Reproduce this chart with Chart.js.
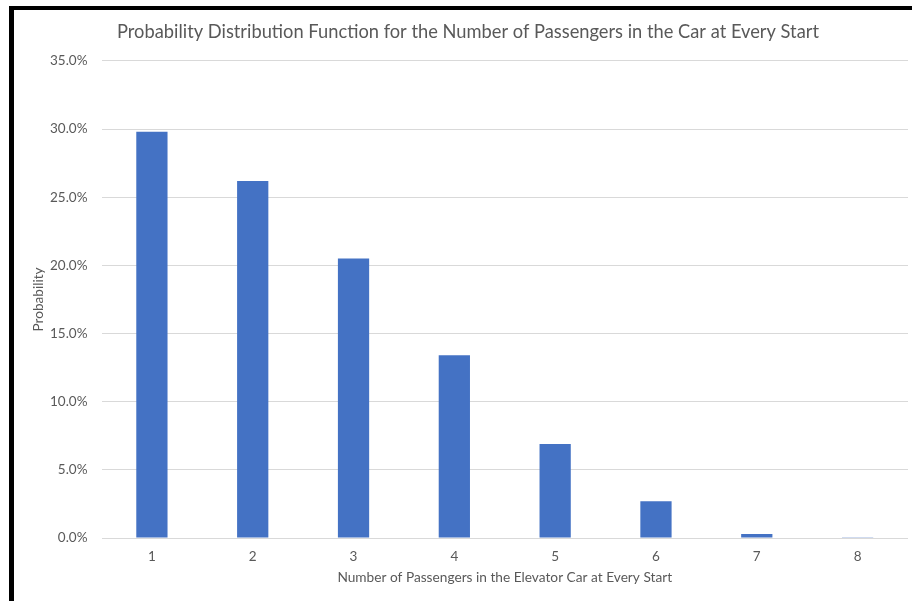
<!DOCTYPE html>
<html>
<head>
<meta charset="utf-8">
<script src="https://cdn.jsdelivr.net/npm/chart.js@4/dist/chart.umd.min.js"></script>
<style>
  html, body { margin: 0; padding: 0; background: #fff; overflow: hidden; width: 912px; height: 601px; }
  #frame { position: absolute; left: 9px; top: 6px; width: 920px; height: 610px;
           border-left: 5px solid #000; border-top: 4px solid #000; overflow: hidden; background: #fff; }
  #wrap { position: absolute; left: 0; top: 0; width: 908px; height: 591px; }
</style>
</head>
<body>
<div id="frame"><div id="wrap"><canvas id="c"></canvas></div></div>
<script>
const categories = ['1', '2', '3', '4', '5', '6', '7', '8'];
const probabilities = [29.8, 26.2, 20.5, 13.4, 6.9, 2.7, 0.3, 0.05];
const chartTitle = 'Probability Distribution Function for the Number of Passengers in the Car at Every Start';
const xTitle = 'Number of Passengers in the Elevator Car at Every Start';
const yTitle = 'Probability';

const FONT = 'Lato, "Open Sans", sans-serif';
const GREY = '#595959';

new Chart(document.getElementById('c'), {
  type: 'bar',
  data: {
    labels: categories,
    datasets: [{
      data: probabilities,
      backgroundColor: '#4472C4',
      borderWidth: 0,
      barPercentage: 0.31,
      categoryPercentage: 1.0
    }]
  },
  options: {
    responsive: true,
    maintainAspectRatio: false,
    animation: false,
    layout: { padding: 0 },
    plugins: {
      legend: { display: false },
      tooltip: { enabled: false },
      title: {
        display: true,
        text: chartTitle,
        color: GREY,
        font: { family: FONT, size: 18.3, weight: 'normal' },
        padding: { top: 11, bottom: 18 }
      }
    },
    scales: {
      x: {
        grid: { display: false, drawTicks: false },
        border: { display: false },
        ticks: { color: GREY, font: { family: FONT, size: 13.5 }, padding: 11 },
        title: {
          display: true, text: xTitle, color: GREY,
          font: { family: FONT, size: 13.7 }, padding: { top: 0, bottom: 15 }
        },
        afterFit(scale) { scale.height = 63; }
      },
      y: {
        min: 0, max: 35,
        grid: { color: '#d9d9d9', lineWidth: 1, drawTicks: false },
        border: { display: false },
        ticks: {
          stepSize: 5, color: GREY, font: { family: FONT, size: 13.5 }, padding: 14,
          callback: v => Number(v).toFixed(1) + '%'
        },
        title: {
          display: true, text: yTitle, color: GREY,
          font: { family: FONT, size: 13.6 }, padding: { top: 16, bottom: 0 }
        },
        afterFit(scale) { scale.width = 87.5; }
      },
      rightGap: {
        type: 'linear',
        position: 'right',
        display: true,
        grid: { display: false, drawTicks: false },
        border: { display: false },
        ticks: { display: false },
        afterFit(scale) { scale.width = 14; }
      }
    }
  }
});
</script>
</body>
</html>
